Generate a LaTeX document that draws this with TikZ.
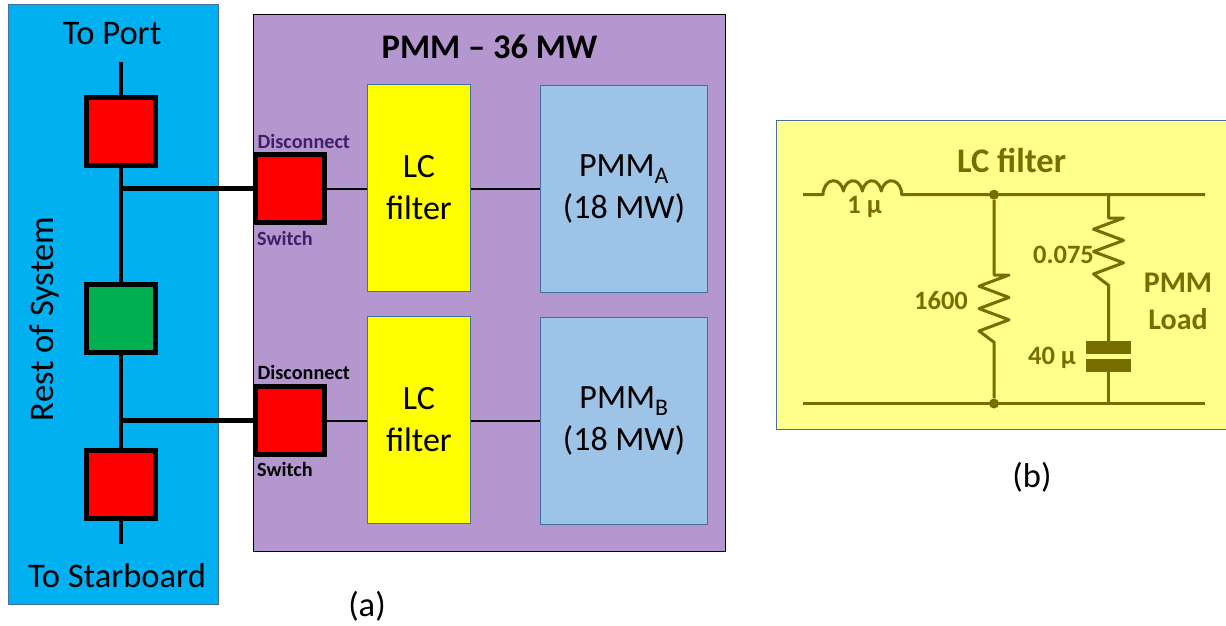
\documentclass[tikz,border=0pt]{standalone}
\usepackage{fontspec}
\setmainfont{Carlito}
\definecolor{bluebg}{HTML}{00B0F0}
\definecolor{purplebg}{HTML}{B597CF}
\definecolor{pmmblue}{HTML}{9DC3E6}
\definecolor{edgeblue}{HTML}{41719C}
\definecolor{swgreen}{HTML}{00B050}
\definecolor{pale}{HTML}{FFFF8B}
\definecolor{olive}{HTML}{766F00}
\definecolor{darkpurple}{HTML}{3F1F66}
\definecolor{lcyellow}{HTML}{FFFF00}
\definecolor{swred}{HTML}{FF0000}
\tikzset{
 x=1pt,y=-1pt,
 panel/.style={draw=edgeblue,line width=1pt,anchor=north west,inner sep=0pt},
 sw/.style={draw=black,line width=5pt,minimum width=69pt,minimum height=68pt,inner sep=0pt},
 lcbox/.style={panel,fill=lcyellow,minimum width=103pt,minimum height=207pt,align=center,font=\fontsize{34}{42}\selectfont},
 pmmbox/.style={panel,fill=pmmblue,minimum width=167pt,minimum height=207pt,align=center,font=\fontsize{34}{42}\selectfont},
 bus/.style={line width=4.5pt,black},
 thinw/.style={line width=2pt,black},
 lbl/.style={font=\fontsize{34.5}{42}\selectfont,inner sep=0pt},
 swl/.style={font=\bfseries\fontsize{20.2}{24}\selectfont,text=darkpurple,inner sep=0pt},
 swlb/.style={font=\bfseries\fontsize{20.2}{24}\selectfont,text=black,inner sep=0pt},
 wire/.style={line width=3pt,olive,line join=round},
 flbl/.style={font=\bfseries\fontsize{26.5}{32}\selectfont,text=olive,inner sep=0pt},
 fbig/.style={font=\bfseries\fontsize{34.5}{40}\selectfont,text=olive,inner sep=0pt},
 plate/.style={fill=olive,draw=none,minimum width=45pt,minimum height=13pt,inner sep=0pt},
 fdot/.style={circle,fill=olive,draw=none,minimum size=10pt,inner sep=0pt},
}
\begin{document}
\begin{tikzpicture}
\useasboundingbox (0,0) rectangle (1226,626);
% panels
\node[panel,fill=bluebg,minimum width=209.5pt,minimum height=600pt] (rest) at (8,4) {};
\node[panel,draw=black,line width=1.2pt,fill=purplebg,minimum width=471.5pt,minimum height=536.5pt] (pmm) at (253,14) {};
\node[lbl] (toport) at (112,34) {To Port};
\node[lbl] (tostar) at (117,576) {To Starboard};
\node[lbl,rotate=90] (restlbl) at (44.5,319) {Rest of System};
\node[font=\bfseries\fontsize{34.5}{42}\selectfont,inner sep=0pt] (pmmtitle) at (489.5,47) {PMM – 36 MW};
% bus
\coordinate (busT) at (121,62);
\coordinate (busB) at (121,544);
\coordinate (j1) at (121,188.5);
\coordinate (j2) at (121,420.5);
\draw[bus] (busT) -- (busB);
\node[sw,fill=swred] (s1) at (121,131.5) {};
\node[sw,fill=swgreen] (s2) at (121,318) {};
\node[sw,fill=swred] (s3) at (121,484) {};
\node[sw,fill=swred] (d1) at (290,188.5) {};
\node[sw,fill=swred] (d2) at (290,420.5) {};
\draw[bus] (j1) -- (d1.west);
\draw[bus] (j2) -- (d2.west);
% boxes
\node[lcbox] (lc1) at (367,84) {LC\\filter};
\node[lcbox] (lc2) at (367,316) {LC\\filter};
\node[pmmbox] (pa) at (540,85) {PMM\textsubscript{A}\\(18 MW)};
\node[pmmbox] (pb) at (540,317) {PMM\textsubscript{B}\\(18 MW)};
\draw[thinw] (d1.east) -- (lc1.west|-d1.east);
\draw[thinw] (d2.east) -- (lc2.west|-d2.east);
\draw[thinw] (lc1.east|-d1.east) -- (pa.west|-d1.east);
\draw[thinw] (lc2.east|-d2.east) -- (pb.west|-d2.east);
\node[swl,anchor=west] (dl1) at (257.5,141) {Disconnect};
\node[swl,anchor=west] (sl1) at (257,238) {Switch};
\node[swlb,anchor=west] (dl2) at (257.5,372) {Disconnect};
\node[swlb,anchor=west] (sl2) at (257,469) {Switch};
\node[lbl] (capa) at (367,606) {(a)};
\node[lbl] (capb) at (1032,477) {(b)};
% filter panel
\node[panel,fill=pale,minimum width=452pt,minimum height=309pt] (fp) at (776,120) {};
\coordinate (tl) at (803,194.7);
\coordinate (tr) at (1205,194.7);
\coordinate (bl) at (803,403.5);
\coordinate (br) at (1205,403.5);
\node[fdot] (nt) at (994,194.7) {};
\node[fdot] (nb) at (994,403.5) {};
\coordinate (rt) at (1108.5,194.7);
\coordinate (rb) at (1108.5,403.5);
\coordinate (r1a) at (994,275);
\coordinate (r1b) at (994,342);
\coordinate (r2a) at (1108.5,218);
\coordinate (r2b) at (1108.5,285);
\node[plate] (c1) at (1108.5,347.5) {};
\node[plate] (c2) at (1108.5,365.5) {};
\coordinate (la) at (823,194.7);
\draw[wire] (tl) -- (la)
  arc[start angle=180,end angle=15,x radius=10.4pt,y radius=14pt]
  arc[start angle=165,end angle=15,x radius=9.8pt,y radius=14pt]
  arc[start angle=165,end angle=15,x radius=9.8pt,y radius=14pt]
  arc[start angle=165,end angle=0,x radius=10.4pt,y radius=14pt]
  -- (tr);
\draw[wire] (bl) -- (br);
\draw[wire] (nt) -- (r1a) -- ++(15,0) -- ++(-30,11.2) -- ++(30,11.2) -- ++(-30,11.2) -- ++(30,11.2) -- ++(-30,11.2) -- ++(15,11.2) -- (r1b) -- (nb);
\draw[wire] (rt) -- (r2a) -- ++(15,0) -- ++(-30,11.2) -- ++(30,11.2) -- ++(-30,11.2) -- ++(30,11.2) -- ++(-30,11.2) -- ++(15,11.2) -- (r2b) -- (c1);
\draw[wire] (c2) -- (rb);
\node[fbig] (ft) at (1011.5,160) {LC filter};
\node[flbl] (l1) at (864.5,207) {1 µ};
\node[flbl] (l2) at (941,301) {1600};
\node[flbl] (l3) at (1063.5,255) {0.075};
\node[flbl] (l4) at (1052,358) {40 µ};
\node[fbig,align=center,font=\bfseries\fontsize{30}{37}\selectfont] (load) at (1178,301) {PMM\\Load};
\end{tikzpicture}
\end{document}
